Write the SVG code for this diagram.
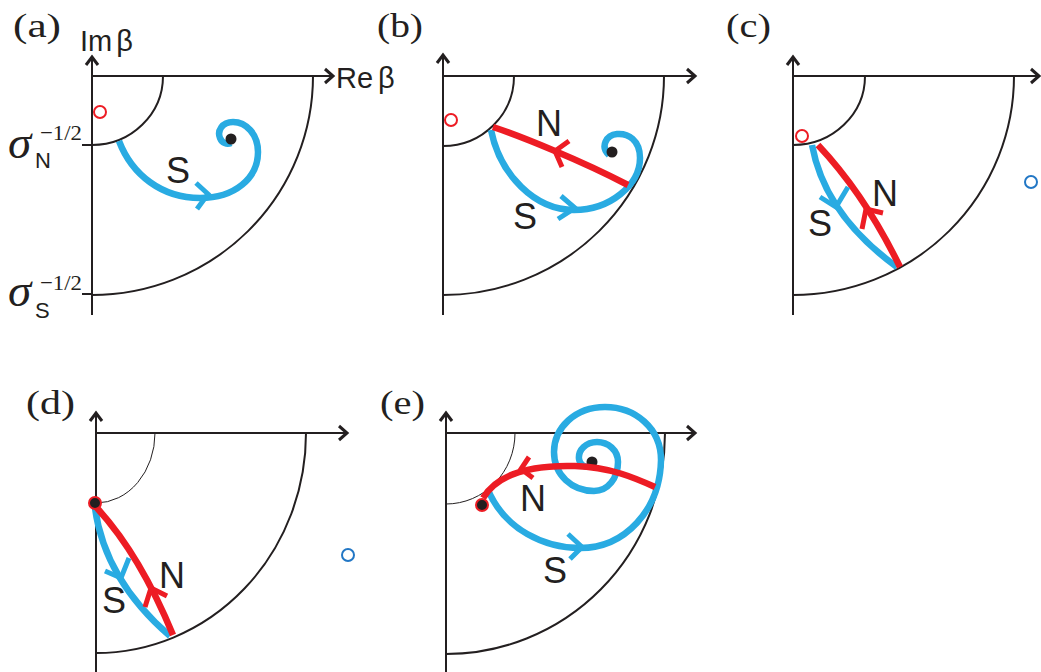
<svg xmlns="http://www.w3.org/2000/svg" width="1041" height="672" viewBox="0 0 1041 672">
<style>
.ax{fill:none;stroke:#231f20;stroke-width:2}
.ah{fill:none;stroke:#231f20;stroke-width:3;stroke-linejoin:miter}
.arc{fill:none;stroke:#231f20;stroke-width:2}
.thin{fill:none;stroke:#231f20;stroke-width:1}
.b{fill:none;stroke:#29abe2;stroke-width:6.5}
.r{fill:none;stroke:#ed1c24;stroke-width:6.5}
.bh{fill:none;stroke:#29abe2;stroke-width:5}
.rh{fill:none;stroke:#ed1c24;stroke-width:5}
.dot{fill:#231f20}
.rdot{fill:#231f20;stroke:#ed1c24;stroke-width:2}
.ro{fill:none;stroke:#ed1c24;stroke-width:2}
.bo{fill:none;stroke:#2277c5;stroke-width:2}
.pl{font-family:"Liberation Serif",serif;font-size:34px;fill:#231f20}
.lab{font-family:"Liberation Sans",Arial,sans-serif;font-size:36px;fill:#231f20;text-anchor:middle}
.axl{font-family:"Liberation Sans",Arial,sans-serif;font-size:29px;fill:#231f20}
.sig{font-family:"Liberation Serif",serif;font-style:italic;font-size:47px;fill:#231f20}
.sup{font-family:"Liberation Serif",serif;font-size:22px;fill:#231f20}
.sub{font-family:"Liberation Sans",Arial,sans-serif;font-size:22px;fill:#231f20}
</style>

<g id="panel-a">
<text class="pl" x="13" y="37" textLength="48" lengthAdjust="spacingAndGlyphs">(a)</text>
<text class="axl" x="80" y="51">Im<tspan dx="4">β</tspan></text>
<text class="axl" x="336" y="88">Re<tspan dx="5">β</tspan></text>
<path class="ax" d="M92,58 V315 M92,76 H332 M82,145 H92 M82,294 H92"/>
<polyline class="ah" points="86,65 92,57 98,65"/>
<polyline class="ah" points="325,69 333,76 325,83"/>
<path class="arc" d="M163,76 A71,69 0 0 1 92,145"/>
<path class="arc" d="M313,76 A221,219 0 0 1 92,295"/>
<text class="sig" x="8" y="158">σ</text>
<text class="sup" x="40" y="140" textLength="42" lengthAdjust="spacingAndGlyphs">−1/2</text>
<text class="sub" x="35" y="168">N</text>
<text class="sig" x="8" y="306">σ</text>
<text class="sup" x="40" y="290" textLength="42" lengthAdjust="spacingAndGlyphs">−1/2</text>
<text class="sub" x="35" y="318">S</text>
<circle class="ro" cx="100" cy="112" r="6"/>
<path class="b" d="M119,141 C132,175 162,198 200,198 C235,198 258,178 258,152 C258,134 246,122 233,122 C222,122 217,131 220,138 C222,143 227,145 231,143"/>
<circle class="dot" cx="231" cy="139" r="5.5"/>
<polyline class="bh" points="196,183 208,194 197,209"/>
<text class="lab" x="178" y="183">S</text>
</g>

<g id="panel-b">
<text class="pl" x="377" y="37" textLength="46" lengthAdjust="spacingAndGlyphs">(b)</text>
<path class="ax" d="M443,56 V315 M443,76 H694"/>
<polyline class="ah" points="437,63 443,55 449,63"/>
<polyline class="ah" points="687,69 695,76 687,83"/>
<path class="arc" d="M514,76 A71,70 0 0 1 443,146"/>
<path class="arc" d="M664,76 A221,219 0 0 1 443,295"/>
<circle class="ro" cx="451" cy="120" r="6"/>
<path class="b" d="M491,130 C500,175 535,210 574,210 C610,210 640,185 640,158 C640,140 628,133 617,134 C606,135 600,147 609,155"/>
<circle class="dot" cx="612" cy="152" r="5.5"/>
<path class="r" d="M493,127 C520,136 580,160 628,185"/>
<polyline class="rh" points="569,141 555,151 562,167"/>
<polyline class="bh" points="561,196 575,208 558,219"/>
<text class="lab" x="549" y="136">N</text>
<text class="lab" x="525" y="229">S</text>
</g>

<g id="panel-c">
<text class="pl" x="726" y="37" textLength="45" lengthAdjust="spacingAndGlyphs">(c)</text>
<path class="ax" d="M793,58 V315 M793,76 H1037"/>
<polyline class="ah" points="787,65 793,57 799,65"/>
<polyline class="ah" points="1031,69 1039,76 1031,83"/>
<path class="arc" d="M865,76 A72,69 0 0 1 793,145"/>
<path class="arc" d="M1014,76 A221,219 0 0 1 793,295"/>
<circle class="ro" cx="802" cy="136" r="6"/>
<circle class="bo" cx="1031" cy="182" r="6"/>
<path class="b" d="M812,145 Q825,215 897,267"/>
<path class="r" d="M818,145 Q865,195 900,267"/>
<polyline class="bh" points="820,197 836,207 848,187"/>
<polyline class="rh" points="862,229 866,209 883,213"/>
<text class="lab" x="885" y="206">N</text>
<text class="lab" x="820" y="236">S</text>
</g>

<g id="panel-d">
<text class="pl" x="26" y="414" textLength="49" lengthAdjust="spacingAndGlyphs">(d)</text>
<path class="ax" d="M96,415 V672 M96,433 H346"/>
<polyline class="ah" points="90,421 96,413 102,421"/>
<polyline class="ah" points="339,426 347,433 339,440"/>
<path class="thin" d="M155,433 A59,70 0 0 1 96,503"/>
<path class="arc" d="M306,433 A210,220 0 0 1 96,653"/>
<circle class="bo" cx="348" cy="555" r="6"/>
<path class="b" d="M95,508 Q105,580 170,636"/>
<path class="r" d="M97,508 Q140,555 173,635"/>
<circle class="rdot" cx="95" cy="503" r="6"/>
<polyline class="bh" points="105,571 121,578 129,558"/>
<polyline class="rh" points="145,607 151,588 167,596"/>
<text class="lab" x="172" y="588">N</text>
<text class="lab" x="114" y="613">S</text>
</g>

<g id="panel-e">
<text class="pl" x="380" y="414" textLength="45" lengthAdjust="spacingAndGlyphs">(e)</text>
<path class="ax" d="M446,415 V672 M446,433 H694"/>
<polyline class="ah" points="440,421 446,413 452,421"/>
<polyline class="ah" points="687,426 695,433 687,440"/>
<path class="thin" d="M515,433 A69,71 0 0 1 446,504"/>
<path class="arc" d="M665,433 A219,221 0 0 1 446,654"/>
<path class="b" d="M488,490 C505,530 545,548 580,548 C625,548 660,510 661,460 C661,428 635,407 605,407 C575,407 554,428 554,452 C554,475 572,491 594,491 C608,491 618,478 618,462 C618,450 608,442 597,442 C586,442 578,450 579,459 C580,465 585,468 590,466"/>
<circle class="dot" cx="592" cy="462" r="5.5"/>
<path class="r" d="M483,498 C500,470 540,465 575,466 C610,467 635,478 655,487"/>
<circle class="rdot" cx="482" cy="505" r="6"/>
<polyline class="rh" points="529,457 521,469 533,478"/>
<polyline class="bh" points="568,534 582,547 570,559"/>
<text class="lab" x="533" y="511">N</text>
<text class="lab" x="555" y="583">S</text>
</g>
</svg>
